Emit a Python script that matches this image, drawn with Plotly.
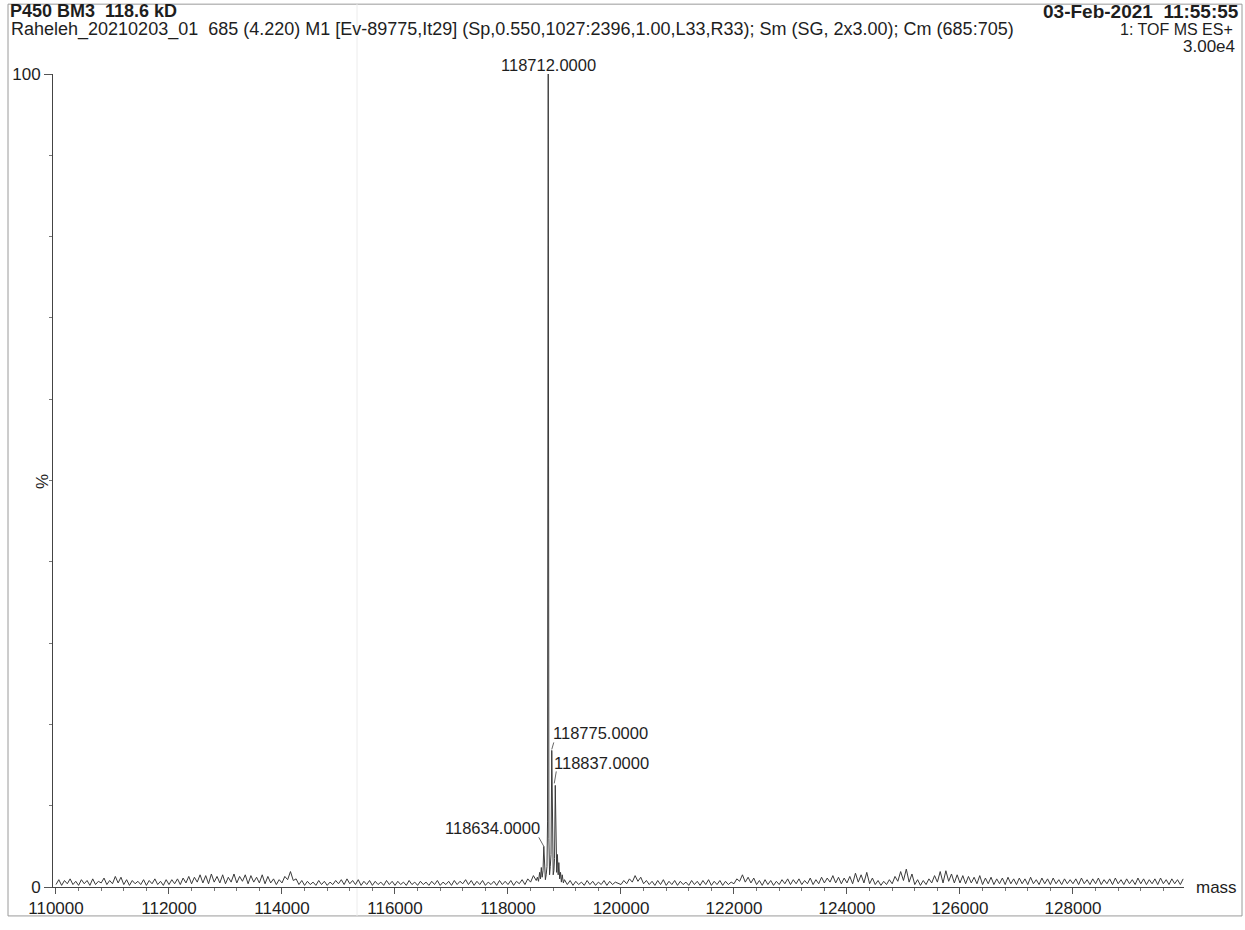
import plotly.graph_objects as go

# ---------------- data ----------------
# Background trace: intensity (% of base peak) sampled every 50 Da from 110000
bg_start = 110000
bg_step = 50
bg_pct = [
    # 110000-111950
    0.3, 0.9, 0.2, 0.8, 0.4, 1.0, 0.3, 0.7, 0.2, 0.9, 0.4, 0.8, 0.2, 1.0, 0.3, 0.7, 0.5, 1.1, 0.3, 0.8,
    0.4, 1.3, 0.5, 1.2, 0.3, 0.9, 0.2, 0.8, 0.4, 0.7, 0.3, 0.9, 0.2, 0.8, 0.4, 1.0, 0.3, 0.7, 0.2, 0.9,
    # 112000-113950
    0.3, 0.9, 0.4, 1.0, 0.3, 1.1, 0.5, 1.3, 0.4, 1.2, 0.6, 1.5, 0.5, 1.4, 0.4, 1.6, 0.6, 1.3, 0.5, 1.5,
    0.4, 1.2, 0.6, 1.6, 0.5, 1.3, 0.7, 1.5, 0.4, 1.4, 0.6, 1.2, 0.5, 1.5, 0.4, 1.3, 0.5, 1.0, 0.3, 0.9,
    # 114000-115950
    0.5, 1.3, 0.9, 1.9, 0.8, 1.0, 0.3, 0.8, 0.2, 0.7, 0.3, 0.6, 0.2, 0.8, 0.3, 0.7, 0.2, 0.6, 0.3, 0.8,
    0.4, 0.9, 0.3, 1.0, 0.4, 0.8, 0.3, 0.9, 0.2, 0.7, 0.3, 0.8, 0.2, 0.7, 0.3, 0.6, 0.2, 0.8, 0.3, 0.7,
    # 116000-117950
    0.2, 0.7, 0.3, 0.6, 0.2, 0.8, 0.3, 0.6, 0.2, 0.7, 0.3, 0.6, 0.2, 0.7, 0.3, 0.8, 0.2, 0.6, 0.3, 0.7,
    0.2, 0.8, 0.3, 0.7, 0.4, 0.9, 0.3, 0.8, 0.2, 0.7, 0.3, 0.8, 0.2, 0.6, 0.3, 0.7, 0.2, 0.8, 0.3, 0.7,
    # 118000-119950 (118500-119000 is covered by the peak cluster below)
    0.3, 0.8, 0.2, 0.7, 0.4, 0.9, 0.3, 1.0, 0.6, 1.4, 0.5, 0.5, 0.5, 0.5, 0.5, 0.5, 0.5, 0.5, 0.5, 0.5,
    0.5, 0.3, 0.8, 0.2, 0.7, 0.3, 0.6, 0.2, 0.8, 0.3, 0.7, 0.2, 0.6, 0.3, 0.8, 0.2, 0.7, 0.3, 0.6, 0.4,
    # 120000-121950
    0.3, 0.8, 0.4, 1.0, 0.6, 1.4, 0.7, 1.2, 0.4, 0.8, 0.3, 0.7, 0.2, 0.8, 0.3, 0.9, 0.2, 0.7, 0.3, 0.8,
    0.2, 0.7, 0.3, 0.6, 0.2, 0.8, 0.3, 0.7, 0.2, 0.8, 0.3, 0.9, 0.2, 0.7, 0.3, 0.8, 0.2, 0.7, 0.3, 0.6,
    # 122000-123950
    0.4, 1.0, 0.7, 1.5, 0.6, 1.2, 0.5, 1.1, 0.3, 0.8, 0.2, 0.9, 0.3, 0.8, 0.2, 0.7, 0.3, 0.9, 0.4, 1.0,
    0.3, 0.9, 0.4, 1.0, 0.3, 0.8, 0.4, 1.1, 0.3, 0.9, 0.4, 1.2, 0.5, 1.1, 0.6, 1.4, 0.5, 1.2, 0.4, 1.1,
    # 124000-125950
    0.5, 1.3, 0.4, 1.7, 0.6, 1.5, 0.5, 1.8, 0.4, 1.1, 0.3, 0.8, 0.2, 0.7, 0.3, 0.9, 0.4, 1.3, 0.7, 1.9,
    0.8, 2.2, 0.6, 1.6, 0.3, 0.9, 0.2, 0.8, 0.3, 1.0, 0.5, 1.4, 0.6, 1.9, 0.5, 2.0, 0.7, 1.6, 0.5, 1.5,
    # 126000-127950
    0.5, 1.4, 0.4, 1.3, 0.5, 1.2, 0.4, 1.4, 0.3, 1.1, 0.4, 1.2, 0.3, 1.0, 0.4, 1.1, 0.3, 1.2, 0.4, 1.0,
    0.3, 1.1, 0.4, 1.0, 0.3, 1.2, 0.4, 0.9, 0.3, 1.1, 0.4, 1.0, 0.3, 1.1, 0.4, 0.9, 0.3, 1.0, 0.4, 0.9,
    # 128000-129950
    0.4, 1.0, 0.3, 1.1, 0.4, 0.9, 0.3, 1.0, 0.4, 1.1, 0.3, 0.9, 0.4, 1.0, 0.3, 1.1, 0.4, 0.9, 0.3, 1.0,
    0.4, 0.9, 0.3, 1.1, 0.4, 1.0, 0.3, 0.9, 0.4, 1.0, 0.3, 1.1, 0.4, 0.9, 0.3, 1.0, 0.4, 0.9, 0.3, 1.0,
]

# Main charge-state cluster around the base peak
cluster_mass = [118500, 118520, 118540, 118560, 118575, 118590, 118605, 118620, 118634, 118648,
                118662, 118676, 118690, 118700, 118712, 118724, 118736, 118748, 118762, 118775,
                118788, 118800, 118812, 118824, 118837, 118850, 118862, 118875, 118888, 118900,
                118915, 118930, 118945, 118960, 118980, 119000]
cluster_pct = [0.8, 1.2, 0.7, 1.8, 1.0, 2.4, 1.2, 2.0, 5.0, 1.6,
               0.9, 1.5, 2.5, 8.0, 100.0, 6.0, 1.5, 2.5, 4.0, 16.8,
               3.0, 1.5, 2.0, 3.5, 12.5, 3.0, 1.8, 4.0, 1.5, 3.0,
               1.0, 1.8, 0.6, 1.5, 0.5, 0.9]

# Labelled peaks
label_mass = [118712, 118775, 118837, 118634]

x_tick_vals = [110000, 112000, 114000, 116000, 118000, 120000, 122000, 124000, 126000, 128000]
x_tick_text = [str(v) for v in x_tick_vals]
y_tick_vals = [0, 100]
y_tick_text = ["0", "100"]

title_left = "P450 BM3\u00a0\u00a0118.6 kD"
title_right = "03-Feb-2021\u00a0\u00a011:55:55"
subtitle = ("Raheleh_20210203_01\u00a0\u00a0685 (4.220) M1 [Ev-89775,It29] "
            "(Sp,0.550,1027:2396,1.00,L33,R33); Sm (SG, 2x3.00); Cm (685:705)")
func_text = "1: TOF MS ES+"
scale_text = "3.00e4"

# ---------------- assemble spectrum ----------------
points = []
for i, v in enumerate(bg_pct):
    m = bg_start + i * bg_step
    if cluster_mass[0] <= m <= cluster_mass[-1]:
        continue
    points.append((m, v))
points += list(zip(cluster_mass, cluster_pct))
points.sort()
mass = [p[0] for p in points]
pct = [p[1] for p in points]
peak_height = dict(zip(cluster_mass, cluster_pct))

# ---------------- layout geometry (pixels) ----------------
W, H = 1245, 930
L, R, T, B = 53, 1184, 74, 889  # plot-area edges
XR = (109947, 129965)


def px(x):
    return (x - L) / (R - L)


def py(y):
    return (B - y) / (B - T)


def mass_px(m):
    return L + (m - XR[0]) / (XR[1] - XR[0]) * (R - L)


def pct_px(v):
    return B - v / 100 * (B - T)


FONT = "Liberation Sans, Arial, sans-serif"
INK = "#1e1e1e"

fig = go.Figure()
fig.add_trace(go.Scatter(x=mass, y=pct, mode="lines",
                         line=dict(color="#3a3a3a", width=1),
                         hoverinfo="x+y", showlegend=False))

fig.update_layout(
    width=W, height=H, autosize=False,
    margin=dict(l=L, r=W - R, t=T, b=H - B, pad=0),
    paper_bgcolor="white", plot_bgcolor="white",
    font=dict(family=FONT, size=17, color=INK),
    xaxis=dict(range=list(XR), showgrid=False, zeroline=False,
               showline=True, linecolor="#444444", linewidth=1,
               tickmode="array", tickvals=x_tick_vals, ticktext=x_tick_text,
               ticks="outside", ticklen=6, tickcolor="#555555",
               minor=dict(dtick=400, tick0=110000, ticks="outside", ticklen=3, tickcolor="#777777"),
               tickfont=dict(size=17, family=FONT, color=INK)),
    yaxis=dict(range=[0, 100], showgrid=False, zeroline=False,
               showline=True, linecolor="#444444", linewidth=1,
               tickmode="array", tickvals=y_tick_vals, ticktext=y_tick_text,
               ticks="outside", ticklen=8, tickcolor="#555555",
               minor=dict(dtick=10, tick0=0, ticks="outside", ticklen=3, tickcolor="#777777"),
               tickfont=dict(size=17, family=FONT, color=INK)),
)

ann = []
# header
ann.append(dict(x=px(8), y=py(11), xref="paper", yref="paper", xanchor="left", yanchor="middle",
                text="<b>%s</b>" % title_left, showarrow=False, font=dict(size=18)))
ann.append(dict(x=px(1241), y=py(11), xref="paper", yref="paper", xanchor="right", yanchor="middle",
                text="<b>%s</b>" % title_right, showarrow=False, font=dict(size=19)))
ann.append(dict(x=px(9), y=py(29), xref="paper", yref="paper", xanchor="left", yanchor="middle",
                text=subtitle, showarrow=False, font=dict(size=18)))
ann.append(dict(x=px(1235), y=py(29), xref="paper", yref="paper", xanchor="right", yanchor="middle",
                text=func_text, showarrow=False, font=dict(size=16)))
ann.append(dict(x=px(1237), y=py(46), xref="paper", yref="paper", xanchor="right", yanchor="middle",
                text=scale_text, showarrow=False, font=dict(size=17)))
# axis captions
ann.append(dict(x=px(43), y=py(483), xref="paper", yref="paper", xanchor="center", yanchor="middle",
                text="%", textangle=-90, showarrow=False, font=dict(size=17)))
ann.append(dict(x=px(1194), y=py(889), xref="paper", yref="paper", xanchor="left", yanchor="middle",
                text="mass", showarrow=False, font=dict(size=17)))

# peak labels: text offset (px) from the peak tip, plus an optional leader line
label_style = {
    118712: dict(dx=0, dy=-9, xanchor="center", leader=None),
    118775: dict(dx=-1, dy=-17, xanchor="left", leader=(2, -8, 0, -1)),
    118837: dict(dx=-3, dy=-22, xanchor="left", leader=(1, -14, -1, -2)),
    118634: dict(dx=-2, dy=-18, xanchor="right", leader=(-5, -9, 0, 0)),
}

shapes = []
for m in label_mass:
    st = label_style[m]
    tx = mass_px(m) + st["dx"]
    ty = pct_px(peak_height[m]) + st["dy"]
    ann.append(dict(x=px(tx), y=py(ty), xref="paper", yref="paper",
                    xanchor=st["xanchor"], yanchor="middle",
                    text="%d.0000" % m, showarrow=False, font=dict(size=16.5)))
    if st["leader"]:
        x0, y0, x1, y1 = st["leader"]
        shapes.append(dict(type="line", xref="paper", yref="paper",
                           x0=px(mass_px(m) + x0), y0=py(pct_px(peak_height[m]) + y0),
                           x1=px(mass_px(m) + x1), y1=py(pct_px(peak_height[m]) + y1),
                           line=dict(color="#666666", width=1)))

# page frame and faint scan line
shapes.append(dict(type="rect", xref="paper", yref="paper",
                   x0=px(8), y0=py(918), x1=px(1242), y1=py(4),
                   line=dict(color="#9a9a9a", width=1), layer="below"))
shapes.append(dict(type="line", xref="paper", yref="paper",
                   x0=px(357), y0=py(4), x1=px(357), y1=py(918),
                   line=dict(color="#ececec", width=1), layer="below"))

fig.update_layout(annotations=ann, shapes=shapes)
fig.write_html("out.html")
